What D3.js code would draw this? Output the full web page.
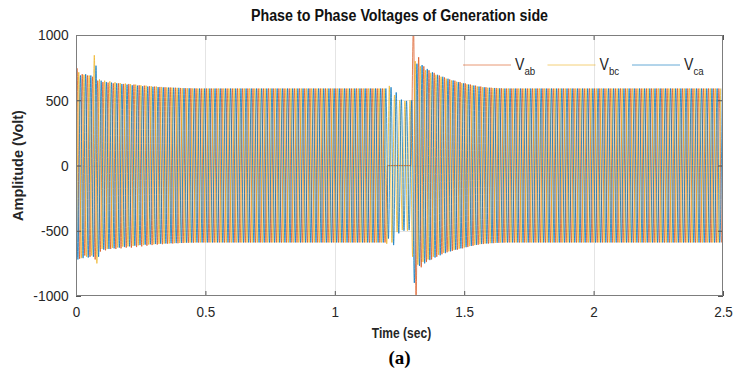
<!DOCTYPE html>
<html>
<head>
<meta charset="utf-8">
<script src="https://cdn.jsdelivr.net/npm/d3@7"></script>
<style>
  html, body { margin: 0; padding: 0; background: #fff; }
  svg { display: block; }
</style>
</head>
<body>
<svg id="chart" width="734" height="376"></svg>
<script>
// ---- data -------------------------------------------------------------
const timeTicks = [0, 0.5, 1, 1.5, 2, 2.5];
const voltTicks = [-1000, -500, 0, 500, 1000];
const seriesNames = ["ab", "bc", "ca"];
const seriesColors = ["#D95319", "#EDB120", "#0072BD"];

// 50 Hz line-to-line voltages, stored as the magnitude of every successive
// extremum (one per half cycle, 10 ms apart), alternating in sign.
const halfPeriod = 0.01;
const firstPeakTime = [0.004, 0.0007, 0.0073];
const firstPeakSign = [1, -1, -1];
const startValues = [230, -695, 475];

const vabPeaks = [
  745,715,700,690,690,700,680,720,650,660,
  640,650,635,640,630,640,630,635,625,630,
  625,630,620,625,615,620,612,615,608,610,
  605,606,602,603,600,600,598,598,596,596,
  594,594,593,593,592,592,591,591,590,590,
  590,590,590,590,590,590,590,590,590,590,
  590,590,590,590,590,590,590,590,590,590,
  590,590,590,590,590,590,590,590,590,590,
  590,590,590,590,590,590,590,590,590,590,
  590,590,590,590,590,590,590,590,590,590,
  590,590,590,590,590,590,590,590,590,590,
  590,590,590,590,590,590,590,590,590,590,
  0,0,0,0,0,0,0,0,0,0,
  1080,1010,830,780,760,740,730,720,710,700,
  690,680,675,665,660,655,650,645,640,635,
  630,625,620,615,612,608,605,602,600,598,
  596,595,594,593,592,591,590,590,590,590,
  590,590,590,590,590,590,590,590,590,590,
  590,590,590,590,590,590,590,590,590,590,
  590,590,590,590,590,590,590,590,590,590,
  590,590,590,590,590,590,590,590,590,590,
  590,590,590,590,590,590,590,590,590,590,
  590,590,590,590,590,590,590,590,590,590,
  590,590,590,590,590,590,590,590,590,590,
  590,590,590,590,590,590,590,590,590,590
];

const vbcPeaks = [
  700,715,710,695,700,690,690,845,750,660,
  640,650,640,645,632,638,628,632,622,628,
  620,624,617,620,612,615,610,612,606,608,
  604,605,601,602,599,599,597,597,595,595,
  594,593,592,592,591,591,590,590,590,590,
  590,590,590,590,590,590,590,590,590,590,
  590,590,590,590,590,590,590,590,590,590,
  590,590,590,590,590,590,590,590,590,590,
  590,590,590,590,590,590,590,590,590,590,
  590,590,590,590,590,590,590,590,590,590,
  590,590,590,590,590,590,590,590,590,590,
  590,590,590,590,590,590,590,590,590,590,
  600,610,590,540,510,500,495,495,500,500,
  700,800,760,760,740,730,720,710,700,695,
  685,680,670,665,658,652,648,642,638,632,
  628,622,618,614,610,606,603,600,598,596,
  595,594,593,592,591,590,590,590,590,590,
  590,590,590,590,590,590,590,590,590,590,
  590,590,590,590,590,590,590,590,590,590,
  590,590,590,590,590,590,590,590,590,590,
  590,590,590,590,590,590,590,590,590,590,
  590,590,590,590,590,590,590,590,590,590,
  590,590,590,590,590,590,590,590,590,590,
  590,590,590,590,590,590,590,590,590,590,
  590,590,590,590,590,590,590,590,590,590
];

const vcaPeaks = [
  720,690,710,700,705,690,700,765,700,650,
  645,640,640,635,635,630,630,625,625,620,
  620,615,615,612,610,608,607,605,604,603,
  602,601,600,599,598,597,596,596,595,595,
  594,593,592,592,591,591,590,590,590,590,
  590,590,590,590,590,590,590,590,590,590,
  590,590,590,590,590,590,590,590,590,590,
  590,590,590,590,590,590,590,590,590,590,
  590,590,590,590,590,590,590,590,590,590,
  590,590,590,590,590,590,590,590,590,590,
  590,590,590,590,590,590,590,590,590,590,
  590,590,590,590,590,590,590,590,590,590,
  560,600,610,560,520,505,500,495,495,500,
  900,780,770,770,750,740,725,715,705,695,
  688,680,672,665,658,652,646,640,635,630,
  626,621,617,613,609,605,602,600,598,596,
  595,594,593,592,591,590,590,590,590,590,
  590,590,590,590,590,590,590,590,590,590,
  590,590,590,590,590,590,590,590,590,590,
  590,590,590,590,590,590,590,590,590,590,
  590,590,590,590,590,590,590,590,590,590,
  590,590,590,590,590,590,590,590,590,590,
  590,590,590,590,590,590,590,590,590,590,
  590,590,590,590,590,590,590,590,590,590,
  590,590,590,590,590,590,590,590,590,590
];

const peakSets = [vabPeaks, vbcPeaks, vcaPeaks];

// ---- layout -----------------------------------------------------------
const svg = d3.select("#chart");
const plot = { left: 76, right: 723, top: 35, bottom: 296 };
const fontSans = "'Liberation Sans', Arial, Helvetica, sans-serif";
const textColor = "#262626";

const x = d3.scaleLinear().domain([0, 2.5]).range([plot.left, plot.right]);
const y = d3.scaleLinear().domain([-1000, 1000]).range([plot.bottom, plot.top]);

svg.append("defs").append("clipPath").attr("id", "plotClip")
  .append("rect")
  .attr("x", plot.left).attr("y", plot.top)
  .attr("width", plot.right - plot.left).attr("height", plot.bottom - plot.top);

// grid
const grid = svg.append("g").attr("stroke", "#e4e4e4").attr("stroke-width", 1);
grid.selectAll("line.gx").data(timeTicks.slice(1, -1)).join("line")
  .attr("x1", d => Math.round(x(d)) + 0.5).attr("x2", d => Math.round(x(d)) + 0.5)
  .attr("y1", plot.top).attr("y2", plot.bottom);
grid.selectAll("line.gy").data(voltTicks.slice(1, -1)).join("line")
  .attr("y1", d => Math.round(y(d)) + 0.5).attr("y2", d => Math.round(y(d)) + 0.5)
  .attr("x1", plot.left).attr("x2", plot.right);

// waveforms
function extremaPoints(k) {
  const pts = [{ t: 0, v: startValues[k] }];
  peakSets[k].forEach((m, i) => {
    const sign = i % 2 === 0 ? firstPeakSign[k] : -firstPeakSign[k];
    pts.push({ t: firstPeakTime[k] + i * halfPeriod, v: sign * m });
  });
  return pts;
}

const line = d3.line()
  .x(d => x(d.t))
  .y(d => y(d.v))
  .curve(d3.curveMonotoneX);

const waves = svg.append("g").attr("clip-path", "url(#plotClip)");
seriesNames.forEach((name, k) => {
  waves.append("path")
    .datum(extremaPoints(k))
    .attr("fill", "none")
    .attr("stroke", seriesColors[k])
    .attr("stroke-width", 0.75)
    .attr("d", line);
});

// axes (ticks pointing inward, box ticks on all four sides)
const fmt = d => String(d);
function styleAxis(g, showLabels, condense) {
  g.select(".domain").remove();
  g.selectAll(".tick line").attr("stroke", "#555").attr("stroke-width", 1);
  g.selectAll(".tick text")
    .attr("fill", textColor)
    .attr("font-family", fontSans)
    .attr("font-size", 15)
    .attr("transform", `scale(${condense},1)`);
  if (!showLabels) g.selectAll(".tick text").remove();
}

const xAxis = svg.append("g")
  .attr("transform", `translate(0,${plot.bottom})`)
  .call(d3.axisBottom(x).tickValues(timeTicks).tickFormat(fmt).tickSizeInner(-5).tickSizeOuter(0).tickPadding(10));
styleAxis(xAxis, true, 0.9);

const yAxis = svg.append("g")
  .attr("transform", `translate(${plot.left},0)`)
  .call(d3.axisLeft(y).tickValues(voltTicks).tickFormat(fmt).tickSizeInner(-5).tickSizeOuter(0).tickPadding(8));
styleAxis(yAxis, true, 0.92);

const xTop = svg.append("g")
  .attr("transform", `translate(0,${plot.top})`)
  .call(d3.axisTop(x).tickValues(timeTicks).tickSizeInner(-5).tickSizeOuter(0));
styleAxis(xTop, false, 1);

const yRight = svg.append("g")
  .attr("transform", `translate(${plot.right},0)`)
  .call(d3.axisRight(y).tickValues(voltTicks).tickSizeInner(-5).tickSizeOuter(0));
styleAxis(yRight, false, 1);

// box
svg.append("rect")
  .attr("x", plot.left + 0.5).attr("y", plot.top + 0.5)
  .attr("width", plot.right - plot.left - 1).attr("height", plot.bottom - plot.top - 1)
  .attr("fill", "none").attr("stroke", "#7d7d7d").attr("stroke-width", 1);

// legend
const legend = svg.append("g").attr("font-family", fontSans).attr("fill", textColor);
const legendStart = 463, legendStep = 84.5, legendLine = 48, legendY = 65;
seriesNames.forEach((name, k) => {
  const gx = legendStart + k * legendStep;
  legend.append("line")
    .attr("x1", gx).attr("x2", gx + legendLine)
    .attr("y1", legendY).attr("y2", legendY)
    .attr("stroke", seriesColors[k]).attr("stroke-width", 1).attr("stroke-opacity", 0.6);
  const t = legend.append("text")
    .attr("transform", `translate(${gx + legendLine + 4},${legendY + 5}) scale(0.88,1)`)
    .attr("font-size", 16);
  t.append("tspan").text("V");
  t.append("tspan").attr("font-size", 11).attr("dy", 5).text(name);
});

// titles
const cx = (plot.left + plot.right) / 2;
svg.append("text")
  .attr("transform", `translate(${cx},21) scale(0.84,1)`)
  .attr("text-anchor", "middle")
  .attr("font-family", fontSans).attr("font-weight", "bold").attr("font-size", 17)
  .attr("fill", "#111")
  .text("Phase to Phase Voltages of Generation side");

svg.append("text")
  .attr("transform", `translate(${cx + 2},338) scale(0.86,1)`)
  .attr("text-anchor", "middle")
  .attr("font-family", fontSans).attr("font-weight", "bold").attr("font-size", 14)
  .attr("fill", textColor)
  .text("Time (sec)");

svg.append("text")
  .attr("transform", `translate(23,${(plot.top + plot.bottom) / 2}) rotate(-90)`)
  .attr("text-anchor", "middle")
  .attr("font-family", fontSans).attr("font-weight", "bold").attr("font-size", 14.5)
  .attr("fill", textColor)
  .text("Amplitude (Volt)");

svg.append("text")
  .attr("x", cx).attr("y", 364)
  .attr("text-anchor", "middle")
  .attr("font-family", "'Liberation Serif', 'Times New Roman', serif")
  .attr("font-weight", "bold").attr("font-size", 19)
  .attr("fill", "#000")
  .text("(a)");
</script>
</body>
</html>
